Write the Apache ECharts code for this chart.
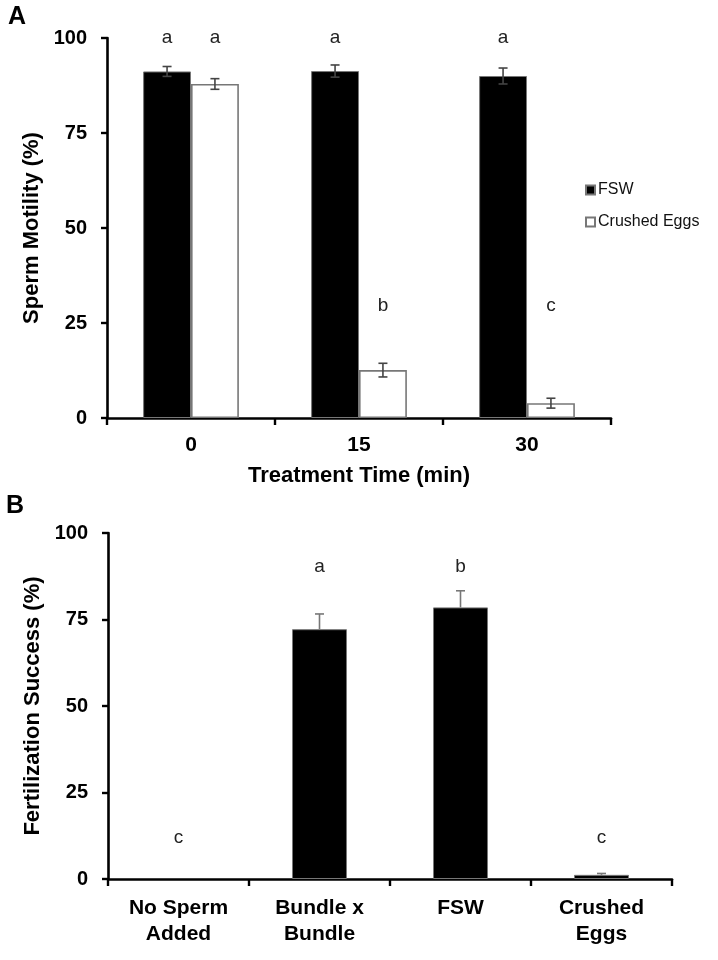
<!DOCTYPE html>
<html><head><meta charset="utf-8">
<script src="https://cdn.jsdelivr.net/npm/echarts@6/dist/echarts.min.js"></script>
<style>html,body{margin:0;padding:0;background:#fff}#c{width:718px;height:960px}</style>
</head><body><div id="c"></div>
<script>
// ---- Panel A data ----
const timeCategories = ['0', '15', '30'];
const fswMotility = [91.2, 91.3, 90.0];
const fswMotilityErr = [1.3, 1.6, 2.1];
const eggsMotility = [87.9, 12.6, 3.9];
const eggsMotilityErr = [1.4, 1.8, 1.3];
const fswLettersA = ['a', 'a', 'a'];
const fswLetterLevelA = [100, 100, 100];
const eggsLettersA = ['a', 'b', 'c'];
const eggsLetterLevelA = [100, 29.5, 29.5];

// ---- Panel B data ----
const fertCategories = ['No Sperm\nAdded', 'Bundle x\nBundle', 'FSW', 'Crushed\nEggs'];
const fertSuccess = [0, 72.2, 78.5, 1.2];
const fertErr = [0, 4.4, 4.8, 0.4];
const fertLetters = ['c', 'a', 'b', 'c'];
const fertLetterLevel = [11.8, 90.2, 90.2, 11.8];

const FONT = "'Liberation Sans', Arial, sans-serif";
const GAP_A = 0.43, GAP_B = 0.61;

function errBars(means, errs, nSeries, seriesIdx, gapFrac, twoSided, color) {
  return function (params, api) {
    const i = api.value(0);
    const m = api.value(1), e = api.value(2);
    const band = api.size([1, 0])[0];
    const bw = band * (1 - gapFrac) / nSeries;
    const c = api.coord([i, m]);
    const x = c[0] - (nSeries * bw) / 2 + bw * (seriesIdx + 0.5);
    const top = api.coord([i, m + e])[1];
    const bot = twoSided ? api.coord([i, m - e])[1] : c[1];
    const cap = 4.5;
    const st = { stroke: color, lineWidth: 1.6 };
    const kids = [
      { type: 'line', shape: { x1: x, y1: top, x2: x, y2: bot }, style: st },
      { type: 'line', shape: { x1: x - cap, y1: top, x2: x + cap, y2: top }, style: st }
    ];
    if (twoSided) kids.push({ type: 'line', shape: { x1: x - cap, y1: bot, x2: x + cap, y2: bot }, style: st });
    return { type: 'group', children: kids };
  };
}
function letters(texts, nSeries, seriesIdx, gapFrac) {
  return function (params, api) {
    const i = api.value(0);
    const lvl = api.value(1);
    const band = api.size([1, 0])[0];
    const bw = band * (1 - gapFrac) / nSeries;
    const c = api.coord([i, lvl]);
    const x = c[0] - (nSeries * bw) / 2 + bw * (seriesIdx + 0.5);
    return { type: 'text', style: { text: texts[i], x: x, y: c[1], align: 'center', verticalAlign: 'middle',
      font: "19px " + FONT, fill: '#222' } };
  };
}

const axisLine = { show: true, lineStyle: { color: '#000', width: 2.6 } };
const axisTick = { show: true, length: 6, lineStyle: { color: '#000', width: 2.4 } };
const tickLabel = { color: '#000', fontFamily: FONT, fontWeight: 'bold', fontSize: 20 };
const nameStyle = { color: '#000', fontFamily: FONT, fontWeight: 'bold', fontSize: 22 };

const chart = echarts.init(document.getElementById('c'), null, { renderer: 'canvas' });
chart.setOption({
  animation: false,
  backgroundColor: '#fff',
  graphic: [
    { type: 'text', left: 8, top: 5, style: { text: 'A', font: "bold 25px " + FONT, fill: '#000' } },
    { type: 'text', left: 6, top: 494, style: { text: 'B', font: "bold 25px " + FONT, fill: '#000' } }
  ],
  legend: {
    data: ['FSW', 'Crushed Eggs'], orient: 'vertical', left: 580, top: 177,
    itemWidth: 9, itemHeight: 9, itemGap: 16, icon: 'rect',
    textStyle: { fontFamily: FONT, fontSize: 16, color: '#111', padding: [0, 0, 0, -2] }
  },
  grid: [
    { left: 107, top: 38, width: 504, height: 380 },
    { left: 108, top: 533, width: 564, height: 346 }
  ],
  xAxis: [
    { type: 'category', gridIndex: 0, data: timeCategories, axisLine, axisTick: Object.assign({}, axisTick, { length: 7 }),
      axisLabel: Object.assign({}, tickLabel, { margin: 17, fontSize: 21 }),
      name: 'Treatment Time (min)', nameLocation: 'middle', nameGap: 47, nameTextStyle: nameStyle },
    { type: 'category', gridIndex: 1, data: fertCategories, axisLine, axisTick: Object.assign({}, axisTick, { length: 7 }),
      axisLabel: Object.assign({}, tickLabel, { margin: 16, fontSize: 21, lineHeight: 26 }) }
  ],
  yAxis: [
    { type: 'value', gridIndex: 0, min: 0, max: 100, interval: 25, axisLine, axisTick, splitLine: { show: false },
      axisLabel: Object.assign({}, tickLabel, { margin: 20 }),
      name: 'Sperm Motility (%)', nameLocation: 'middle', nameGap: 60, nameTextStyle: nameStyle },
    { type: 'value', gridIndex: 1, min: 0, max: 100, interval: 25, axisLine, axisTick, splitLine: { show: false },
      axisLabel: Object.assign({}, tickLabel, { margin: 20 }),
      name: 'Fertilization Success (%)', nameLocation: 'middle', nameGap: 60, nameTextStyle: nameStyle }
  ],
  series: [
    { name: 'FSW', type: 'bar', xAxisIndex: 0, yAxisIndex: 0, data: fswMotility, barGap: '0%', barCategoryGap: '43%',
      itemStyle: { color: '#000', borderColor: '#777', borderWidth: 1 } },
    { name: 'Crushed Eggs', type: 'bar', xAxisIndex: 0, yAxisIndex: 0, data: eggsMotility, barGap: '0%', barCategoryGap: '43%',
      itemStyle: { color: '#fff', borderColor: '#777', borderWidth: 1.6 } },
    { name: 'errFSW', type: 'custom', xAxisIndex: 0, yAxisIndex: 0, z: 5,
      data: fswMotility.map((v, i) => [i, v, fswMotilityErr[i]]),
      renderItem: errBars(fswMotility, fswMotilityErr, 2, 0, GAP_A, true, '#444') },
    { name: 'errEggs', type: 'custom', xAxisIndex: 0, yAxisIndex: 0, z: 5,
      data: eggsMotility.map((v, i) => [i, v, eggsMotilityErr[i]]),
      renderItem: errBars(eggsMotility, eggsMotilityErr, 2, 1, GAP_A, true, '#444') },
    { name: 'lettersFSW', type: 'custom', xAxisIndex: 0, yAxisIndex: 0, z: 5,
      data: fswLetterLevelA.map((v, i) => [i, v]), renderItem: letters(fswLettersA, 2, 0, GAP_A) },
    { name: 'lettersEggs', type: 'custom', xAxisIndex: 0, yAxisIndex: 0, z: 5,
      data: eggsLetterLevelA.map((v, i) => [i, v]), renderItem: letters(eggsLettersA, 2, 1, GAP_A) },

    { name: 'Fertilization', type: 'bar', xAxisIndex: 1, yAxisIndex: 1, barCategoryGap: '61%',
      data: fertSuccess.map(v => v > 0 ? v : { value: v, itemStyle: { borderWidth: 0 } }),
      itemStyle: { color: '#000', borderColor: '#777', borderWidth: 1 } },
    { name: 'errFert', type: 'custom', xAxisIndex: 1, yAxisIndex: 1, z: 5,
      data: fertSuccess.map((v, i) => [i, v, fertErr[i]]).filter(d => d[2] > 0),
      renderItem: errBars(fertSuccess, fertErr, 1, 0, GAP_B, false, '#777') },
    { name: 'lettersFert', type: 'custom', xAxisIndex: 1, yAxisIndex: 1, z: 5,
      data: fertLetterLevel.map((v, i) => [i, v]), renderItem: letters(fertLetters, 1, 0, GAP_B) }
  ]
});
</script>
</body></html>
